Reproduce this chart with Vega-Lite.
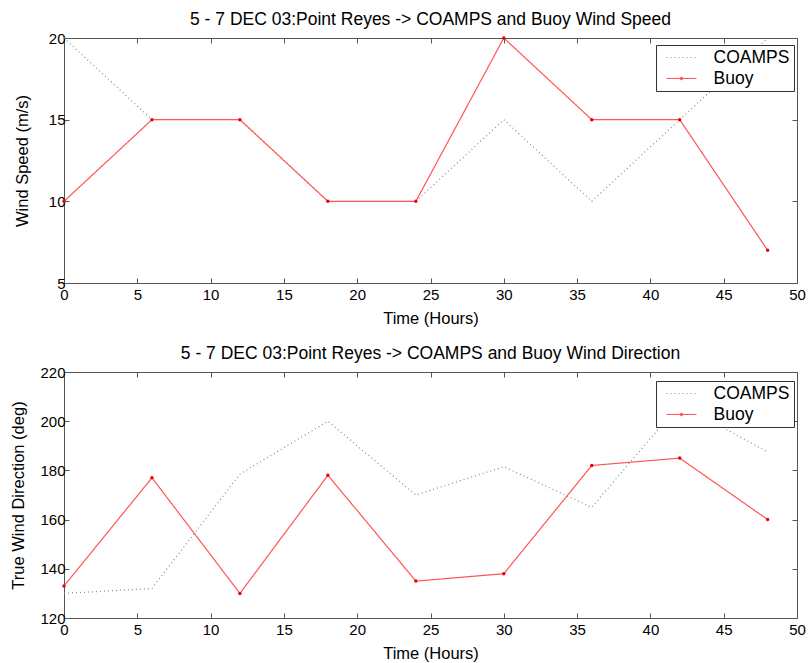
{
  "$schema": "https://vega.github.io/schema/vega-lite/v6.json",
  "background": "white",
  "padding": {"left": 10, "top": 10, "right": 5, "bottom": 5},
  "datasets": {
    "speed": [
      {"t": 0, "v": 20, "series": "COAMPS"},
      {"t": 6, "v": 15, "series": "COAMPS"},
      {"t": 12, "v": 15, "series": "COAMPS"},
      {"t": 18, "v": 10, "series": "COAMPS"},
      {"t": 24, "v": 10, "series": "COAMPS"},
      {"t": 30, "v": 15, "series": "COAMPS"},
      {"t": 36, "v": 10, "series": "COAMPS"},
      {"t": 42, "v": 15, "series": "COAMPS"},
      {"t": 48, "v": 20, "series": "COAMPS"},
      {"t": 0, "v": 10, "series": "Buoy"},
      {"t": 6, "v": 15, "series": "Buoy"},
      {"t": 12, "v": 15, "series": "Buoy"},
      {"t": 18, "v": 10, "series": "Buoy"},
      {"t": 24, "v": 10, "series": "Buoy"},
      {"t": 30, "v": 20, "series": "Buoy"},
      {"t": 36, "v": 15, "series": "Buoy"},
      {"t": 42, "v": 15, "series": "Buoy"},
      {"t": 48, "v": 7, "series": "Buoy"}
    ],
    "direction": [
      {"t": 0, "v": 130, "series": "COAMPS"},
      {"t": 6, "v": 132, "series": "COAMPS"},
      {"t": 12, "v": 178.5, "series": "COAMPS"},
      {"t": 18, "v": 200, "series": "COAMPS"},
      {"t": 24, "v": 170, "series": "COAMPS"},
      {"t": 30, "v": 181.5, "series": "COAMPS"},
      {"t": 36, "v": 165, "series": "COAMPS"},
      {"t": 42, "v": 207, "series": "COAMPS"},
      {"t": 48, "v": 187.5, "series": "COAMPS"},
      {"t": 0, "v": 133, "series": "Buoy"},
      {"t": 6, "v": 177, "series": "Buoy"},
      {"t": 12, "v": 130, "series": "Buoy"},
      {"t": 18, "v": 178, "series": "Buoy"},
      {"t": 24, "v": 135, "series": "Buoy"},
      {"t": 30, "v": 138, "series": "Buoy"},
      {"t": 36, "v": 182, "series": "Buoy"},
      {"t": 42, "v": 185, "series": "Buoy"},
      {"t": 48, "v": 160, "series": "Buoy"}
    ]
  },
  "vconcat": [
    {
      "title": {"text": "5 - 7 DEC 03:Point Reyes -> COAMPS and Buoy Wind Speed"},
      "width": 733,
      "height": 245,
      "data": {"name": "speed"},
      "layer": [
        {
          "mark": {"type": "line", "strokeWidth": 1.2},
          "encoding": {
            "x": {"field": "t", "type": "quantitative", "scale": {"domain": [0, 50], "nice": false},
                  "axis": {"orient": "bottom", "title": "Time (Hours)", "labelPadding": 9, "titlePadding": 8, "values": [0,5,10,15,20,25,30,35,40,45,50]}},
            "y": {"field": "v", "type": "quantitative", "scale": {"domain": [5, 20], "nice": false, "zero": false},
                  "axis": {"orient": "left", "title": "Wind Speed (m/s)", "labelPadding": 4, "titlePadding": 18, "values": [5,10,15,20]}},
            "color": {"field": "series", "type": "nominal",
                      "scale": {"domain": ["COAMPS", "Buoy"], "range": ["#8a8a8a", "#ff5555"]},
                      "legend": {"orient": "none", "legendX": 592, "legendY": 7,
                                 "encode": {"symbols": {"update": {"shape": {"signal": "datum.value === 'Buoy' ? 'M-1,0H1M-0.07,0A0.07,0.07,0,1,1,0.07,0A0.07,0.07,0,1,1,-0.07,0' : 'stroke'"}}}}}},
            "strokeDash": {"field": "series", "type": "nominal",
                      "scale": {"domain": ["COAMPS", "Buoy"], "range": [[1, 3], [1, 0]]},
                      "legend": {"orient": "none", "legendX": 592, "legendY": 7}}
          }
        },
        {
          "transform": [{"filter": "datum.series == 'Buoy'"}],
          "mark": {"type": "point", "filled": true, "size": 12, "opacity": 1},
          "encoding": {
            "x": {"field": "t", "type": "quantitative", "scale": {"domain": [0, 50], "nice": false},
                  "axis": {"orient": "top", "title": null, "labels": false, "values": [0,5,10,15,20,25,30,35,40,45,50]}},
            "y": {"field": "v", "type": "quantitative", "scale": {"domain": [5, 20], "nice": false, "zero": false},
                  "axis": {"orient": "right", "title": null, "labels": false, "values": [5,10,15,20]}},
            "color": {"value": "#ee0000"}
          }
        }
      ],
      "resolve": {"axis": {"x": "independent", "y": "independent"}}
    },
    {
      "title": {"text": "5 - 7 DEC 03:Point Reyes -> COAMPS and Buoy Wind Direction"},
      "width": 733,
      "height": 246,
      "data": {"name": "direction"},
      "layer": [
        {
          "mark": {"type": "line", "strokeWidth": 1.2},
          "encoding": {
            "x": {"field": "t", "type": "quantitative", "scale": {"domain": [0, 50], "nice": false},
                  "axis": {"orient": "bottom", "title": "Time (Hours)", "labelPadding": 9, "titlePadding": 8, "values": [0,5,10,15,20,25,30,35,40,45,50]}},
            "y": {"field": "v", "type": "quantitative", "scale": {"domain": [120, 220], "nice": false, "zero": false},
                  "axis": {"orient": "left", "title": "True Wind Direction (deg)", "labelPadding": 4, "titlePadding": 13, "values": [120,140,160,180,200,220]}},
            "color": {"field": "series", "type": "nominal",
                      "scale": {"domain": ["COAMPS", "Buoy"], "range": ["#8a8a8a", "#ff5555"]},
                      "legend": {"orient": "none", "legendX": 592, "legendY": 9,
                                 "encode": {"symbols": {"update": {"shape": {"signal": "datum.value === 'Buoy' ? 'M-1,0H1M-0.07,0A0.07,0.07,0,1,1,0.07,0A0.07,0.07,0,1,1,-0.07,0' : 'stroke'"}}}}}},
            "strokeDash": {"field": "series", "type": "nominal",
                      "scale": {"domain": ["COAMPS", "Buoy"], "range": [[1, 3], [1, 0]]},
                      "legend": {"orient": "none", "legendX": 592, "legendY": 9}}
          }
        },
        {
          "transform": [{"filter": "datum.series == 'Buoy'"}],
          "mark": {"type": "point", "filled": true, "size": 12, "opacity": 1},
          "encoding": {
            "x": {"field": "t", "type": "quantitative", "scale": {"domain": [0, 50], "nice": false},
                  "axis": {"orient": "top", "title": null, "labels": false, "values": [0,5,10,15,20,25,30,35,40,45,50]}},
            "y": {"field": "v", "type": "quantitative", "scale": {"domain": [120, 220], "nice": false, "zero": false},
                  "axis": {"orient": "right", "title": null, "labels": false, "values": [120,140,160,180,200,220]}},
            "color": {"value": "#ee0000"}
          }
        }
      ],
      "resolve": {"axis": {"x": "independent", "y": "independent"}}
    }
  ],
  "spacing": 89,
  "bounds": "flush",
  "resolve": {"scale": {"color": "independent", "strokeDash": "independent"}, "legend": {"color": "independent", "strokeDash": "independent"}},
  "config": {
    "font": "Liberation Sans",
    "view": {"stroke": "#555555", "strokeWidth": 1},
    "title": {"fontSize": 17.5, "fontWeight": "normal", "color": "black", "offset": 3, "anchor": "middle"},
    "axis": {
      "grid": false,
      "domain": false,
      "ticks": true,
      "tickSize": -5,
      "tickColor": "#555555",
      "labelFontSize": 15,
      "labelColor": "black",
      "labelFlush": false,
      "labelOverlap": false,
      "titleFontSize": 16.5,
      "titleFontWeight": "normal",
      "titleColor": "black"
    },
    "legend": {
      "title": null,
      "strokeColor": "#333333",
      "fillColor": "white",
      "padding": 4,
      "labelFontSize": 17.5,
      "labelColor": "black",
      "symbolType": "stroke",
      "symbolSize": 900,
      "symbolStrokeWidth": 1.2,
      "symbolOffset": 5.5,
      "labelOffset": 16,
      "clipHeight": 17,
      "rowPadding": 3
    }
  }
}
